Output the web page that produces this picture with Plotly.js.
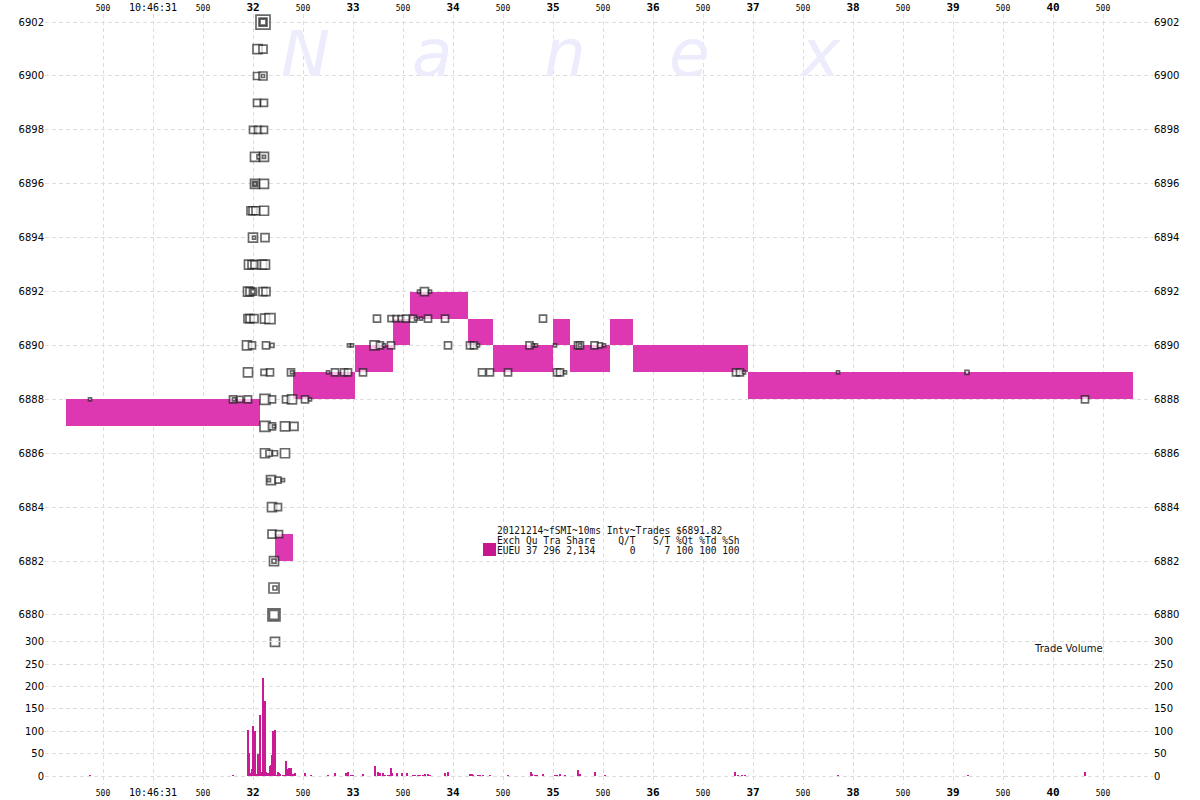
<!DOCTYPE html>
<html><head><meta charset="utf-8">
<script src="https://cdn.plot.ly/plotly-3.0.1.min.js"></script>
<style>html,body{margin:0;padding:0;background:#fff}#chart{width:1200px;height:800px}</style>
</head><body><div id="chart"></div>
<script>
// ---- Trade price bands (seconds after 10:46:00) ----
const bandStart = [30.13, 32.22, 32.40, 33.02, 33.40, 33.57, 34.15, 34.40, 35.00, 35.17, 35.57, 35.80, 36.95];
const bandEnd   = [32.07, 32.40, 33.02, 33.40, 33.57, 34.15, 34.40, 35.00, 35.17, 35.57, 35.80, 36.95, 40.80];
const bandPrice = [6888, 6883, 6889, 6890, 6891, 6892, 6891, 6890, 6891, 6890, 6891, 6890, 6889];

// ---- Quote markers ----
const quoteTime = [
  32.10, 32.10, 32.10,
  32.045, 32.10,
  32.04, 32.10, 32.10,
  32.04, 32.11,
  32.00, 32.05, 32.11,
  32.02, 32.06, 32.11, 32.11,
  32.02, 32.02, 32.02, 32.11,
  31.98, 32.00, 32.03, 32.11,
  32.00, 32.01, 32.12,
  31.96, 31.99, 32.02, 32.09, 32.12,
  31.95, 31.97, 32.00, 32.00, 32.10, 32.13, 33.66, 33.715, 33.77,
  31.95, 31.97, 32.01, 32.12, 32.17, 33.24, 33.38, 33.43, 33.48, 33.53, 33.60, 33.63, 33.68, 33.75, 33.92, 34.90,
  31.94, 31.99, 32.13, 32.19, 32.96, 32.99, 33.215, 33.27, 33.31, 33.38, 33.95, 34.17, 34.21, 34.25, 34.765, 34.80, 34.83, 35.02, 35.25, 35.27, 35.27, 35.415, 35.47, 35.51,
  31.95, 32.11, 32.17, 32.38, 32.39, 32.75, 32.82, 32.91, 32.95, 33.10, 34.29, 34.37, 34.55, 35.04, 35.07, 35.12, 36.83, 36.87, 36.91, 37.85, 39.14,
  30.37, 31.80, 31.81, 31.87, 31.95, 32.12, 32.19, 32.33, 32.39, 32.52, 32.57, 40.32,
  32.12, 32.19, 32.21, 32.32, 32.41,
  32.12, 32.16, 32.22, 32.32,
  32.18, 32.16, 32.25, 32.30,
  32.19, 32.25,
  32.19, 32.26,
  32.21, 32.21,
  32.21, 32.22,
  32.21, 32.21,
  32.22
];
const quotePrice = [
  6902, 6902, 6902,
  6901, 6901,
  6900, 6900, 6900,
  6899, 6899,
  6898, 6898, 6898,
  6897, 6897, 6897, 6897,
  6896, 6896, 6896, 6896,
  6895, 6895, 6895, 6895,
  6894, 6894, 6894,
  6893, 6893, 6893, 6893, 6893,
  6892, 6892, 6892, 6892, 6892, 6892, 6892, 6892, 6892,
  6891, 6891, 6891, 6891, 6891, 6891, 6891, 6891, 6891, 6891, 6891, 6891, 6891, 6891, 6891, 6891,
  6890, 6890, 6890, 6890, 6890, 6890, 6890, 6890, 6890, 6890, 6890, 6890, 6890, 6890, 6890, 6890, 6890, 6890, 6890, 6890, 6890, 6890, 6890, 6890,
  6889, 6889, 6889, 6889, 6889, 6889, 6889, 6889, 6889, 6889, 6889, 6889, 6889, 6889, 6889, 6889, 6889, 6889, 6889, 6889, 6889,
  6888, 6888, 6888, 6888, 6888, 6888, 6888, 6888, 6888, 6888, 6888, 6888,
  6887, 6887, 6887, 6887, 6887,
  6886, 6886, 6886, 6886,
  6885, 6885, 6885, 6885,
  6884, 6884,
  6883, 6883,
  6882, 6882,
  6881, 6881,
  6880, 6880,
  6879
];
const quoteSize = [
  14, 8, 6,
  9, 8,
  7, 8, 3,
  7, 7,
  7, 7, 7,
  9, 4, 9, 3,
  9, 5, 3, 9,
  8, 8, 8, 9,
  9, 3, 8,
  9, 8, 8, 9, 9,
  9, 8, 7, 4, 8, 8, 3, 8, 3,
  8, 8, 8, 9, 10, 7, 6, 6, 6, 7, 7, 3, 3, 7, 7, 7,
  9, 7, 7, 4, 3, 3, 9, 7, 3, 7, 7, 7, 7, 3, 7, 3, 3, 3, 7, 7, 3, 7, 5, 3,
  9, 6, 7, 7, 3, 3, 7, 7, 7, 7, 7, 7, 7, 7, 7, 3, 7, 7, 3, 3, 4,
  3, 7, 3, 6, 7, 10, 7, 7, 9, 7, 3, 7,
  10, 7, 3, 9, 8,
  9, 6, 5, 9,
  9, 3, 6, 3,
  9, 7,
  8, 7,
  9, 4,
  10, 4,
  12, 9,
  9
];

// ---- Trade volume per 10ms interval ----
const volTime = [30.37, 31.80, 31.83, 31.87, 31.95, 31.96, 31.97, 31.99, 32.00, 32.02, 32.03, 32.04, 32.05, 32.06, 32.07, 32.09, 32.10, 32.11, 32.12, 32.13, 32.15, 32.17, 32.18, 32.19, 32.20, 32.21, 32.22, 32.23, 32.25, 32.26, 32.27, 32.30, 32.31, 32.33, 32.34, 32.36, 32.37, 32.38, 32.40, 32.42, 32.52, 32.58, 32.75, 32.82, 32.93, 32.94, 32.95, 32.98, 33.00, 33.10, 33.18, 33.22, 33.25, 33.27, 33.30, 33.32, 33.35, 33.37, 33.38, 33.39, 33.44, 33.49, 33.54, 33.60, 33.62, 33.65, 33.67, 33.70, 33.72, 33.75, 33.77, 33.92, 33.95, 34.17, 34.19, 34.20, 34.25, 34.27, 34.30, 34.37, 34.55, 34.78, 34.79, 34.82, 34.84, 34.90, 35.02, 35.04, 35.07, 35.12, 35.25, 35.27, 35.42, 35.52, 36.82, 36.85, 36.89, 36.92, 37.85, 39.15, 40.32];
const volValue = [2, 3, 1, 1, 104, 52, 6, 16, 111, 100, 5, 5, 49, 46, 136, 8, 219, 144, 168, 10, 7, 22, 25, 47, 101, 81, 104, 3, 10, 7, 5, 3, 3, 34, 15, 18, 5, 19, 4, 7, 6, 2, 2, 6, 6, 4, 10, 2, 2, 4, 1, 23, 9, 6, 7, 2, 2, 2, 18, 6, 6, 6, 6, 3, 2, 2, 2, 2, 4, 4, 2, 6, 10, 4, 4, 3, 2, 2, 2, 3, 3, 10, 4, 3, 3, 4, 3, 3, 4, 2, 13, 5, 10, 2, 8, 3, 3, 2, 2, 2, 8];

// ---- Axis ticks ----
const priceTicks = [6880, 6882, 6884, 6886, 6888, 6890, 6892, 6894, 6896, 6898, 6900, 6902];
const volTicks = [0, 50, 100, 150, 200, 250, 300];
const timeTicks = [30.5, 31, 31.5, 32, 32.5, 33, 33.5, 34, 34.5, 35, 35.5, 36, 36.5, 37, 37.5, 38, 38.5, 39, 39.5, 40, 40.5];
const timeTickLabels = ['500', '10:46:31', '500', '32', '500', '33', '500', '34', '500', '35', '500', '36', '500', '37', '500', '38', '500', '39', '500', '40', '500'];

// ---- Legend / text ----
const legendTitle = '20121214~fSMI~10ms Intv~Trades $6891.82';
const legendHeader = 'Exch Qu Tra Share    Q/T   S/T %Qt %Td %Sh';
const legendRow = 'EUEU 37 296 2,134      0     7 100 100 100';
const watermark = ['N', 'a', 'n', 'e', 'x'];

const styledTimeLabels = timeTickLabels.map(s => {
  if (s === '500') return '<span style="font-size:8px">500</span>';
  if (s.indexOf(':') >= 0) return '<span style="font-size:10px">' + s + '</span>';
  return '<b>' + s + '</b>';
});

const BAND = '#dd37b1';
const VOL = '#cc1a94';

// layout geometry helpers (pixel -> paper)
const L = 45, R = 47, T = 14, B = 16, W = 1200, H = 800;
const pw = W - L - R, ph = H - T - B;
const px = p => (p - L) / pw;
const py = p => (H - B - p) / ph;

const xRange = [29.92, 41.0];
const priceRange = [6878.70, 6902.30];
const volRange = [-17.9, 313.4];

const traces = [
  {
    type: 'bar', x: bandStart, y: bandStart.map(() => 1),
    base: bandPrice.map(p => p - 1),
    width: bandStart.map((s, i) => bandEnd[i] - s), offset: 0,
    marker: {color: BAND, line: {width: 0}},
    xaxis: 'x', yaxis: 'y', hoverinfo: 'skip', showlegend: false
  },
  {
    type: 'scatter', mode: 'markers', x: quoteTime, y: quotePrice, cliponaxis: false,
    marker: {symbol: 'square', size: quoteSize, color: '#ffffff', line: {color: '#2a2a2a', width: 1.7}},
    xaxis: 'x', yaxis: 'y', hoverinfo: 'skip', showlegend: false
  },
  {
    type: 'bar', x: volTime, y: volValue, width: 0.013,
    marker: {color: VOL, line: {width: 0}},
    xaxis: 'x', yaxis: 'y2', hoverinfo: 'skip', showlegend: false
  },
  {type: 'scatter', x: [null], y: [null], xaxis: 'x2', yaxis: 'y', showlegend: false, hoverinfo: 'skip'},
  {type: 'scatter', x: [null], y: [null], xaxis: 'x', yaxis: 'y3', showlegend: false, hoverinfo: 'skip'},
  {type: 'scatter', x: [null], y: [null], xaxis: 'x', yaxis: 'y4', showlegend: false, hoverinfo: 'skip'}
];

const gridColor = '#dddddd';
const gridDash = '4px,3px';
const tickFont = {family: 'DejaVu Sans', size: 10, color: '#000'};
const timeFont = {family: 'DejaVu Sans Mono', size: 11, color: '#000'};

const annotations = [];
const wmX = [305, 432, 565, 690, 820];
watermark.forEach((ch, i) => annotations.push({
  xref: 'paper', yref: 'paper', x: px(wmX[i]), y: py(53), xanchor: 'center', yanchor: 'middle',
  height: 46, text: '<i>' + ch + '</i>', showarrow: false,
  font: {family: 'DejaVu Sans', size: 66, color: '#ececfc'}
}));
[[legendTitle, 530], [legendHeader, 540], [legendRow, 550]].forEach(([t, y]) => annotations.push({
  xref: 'paper', yref: 'paper', x: px(495), y: py(y), xanchor: 'left', yanchor: 'middle',
  text: t.replace(/ /g, '\u00a0'), showarrow: false,
  font: {family: 'DejaVu Sans Mono', size: 9.6, color: '#111'}
}));
annotations.push({
  xref: 'paper', yref: 'paper', x: px(1068), y: py(648), xanchor: 'center', yanchor: 'middle',
  text: 'Trade Volume', showarrow: false, font: {family: 'DejaVu Sans', size: 10, color: '#111'}
});

const layout = {
  width: W, height: H,
  margin: {l: L, r: R, t: T, b: B, pad: 0},
  paper_bgcolor: '#fff', plot_bgcolor: 'rgba(0,0,0,0)',
  barmode: 'overlay', bargap: 0,
  showlegend: false,
  font: {family: 'DejaVu Sans', size: 10, color: '#000'},
  xaxis: {
    range: xRange, anchor: 'y2', side: 'bottom',
    tickmode: 'array', tickvals: timeTicks, ticktext: styledTimeLabels,
    tickfont: timeFont, ticks: '', showline: false, zeroline: false,
    showgrid: true, gridcolor: gridColor, griddash: gridDash, gridwidth: 1
  },
  xaxis2: {
    range: xRange, overlaying: 'x', anchor: 'y', side: 'top',
    tickmode: 'array', tickvals: timeTicks, ticktext: styledTimeLabels,
    tickfont: timeFont, ticks: '', showline: false, zeroline: false, showgrid: false
  },
  yaxis: {
    domain: [py(650), 1], range: priceRange, anchor: 'x', side: 'left',
    tickmode: 'array', tickvals: priceTicks, ticktext: priceTicks.map(String),
    tickfont: tickFont, ticks: '', showline: false, zeroline: false,
    showgrid: true, gridcolor: gridColor, griddash: gridDash, gridwidth: 1
  },
  yaxis3: {
    range: priceRange, overlaying: 'y', anchor: 'x', side: 'right',
    tickmode: 'array', tickvals: priceTicks, ticktext: priceTicks.map(String),
    tickfont: tickFont, ticks: '', showline: false, zeroline: false, showgrid: false
  },
  yaxis2: {
    domain: [0, py(636)], range: volRange, anchor: 'x', side: 'left',
    tickmode: 'array', tickvals: volTicks, ticktext: volTicks.map(String),
    tickfont: tickFont, ticks: '', showline: false, zeroline: false,
    showgrid: true, gridcolor: gridColor, griddash: gridDash, gridwidth: 1
  },
  yaxis4: {
    range: volRange, overlaying: 'y2', anchor: 'x', side: 'right',
    tickmode: 'array', tickvals: volTicks, ticktext: volTicks.map(String),
    tickfont: tickFont, ticks: '', showline: false, zeroline: false, showgrid: false
  },
  shapes: [{
    type: 'rect', xref: 'paper', yref: 'paper',
    x0: px(483), x1: px(496), y0: py(556), y1: py(543),
    fillcolor: '#c8168e', line: {width: 0}
  }],
  annotations: annotations
};

Plotly.newPlot('chart', traces, layout, {staticPlot: true, displayModeBar: false});
</script>
</body></html>
